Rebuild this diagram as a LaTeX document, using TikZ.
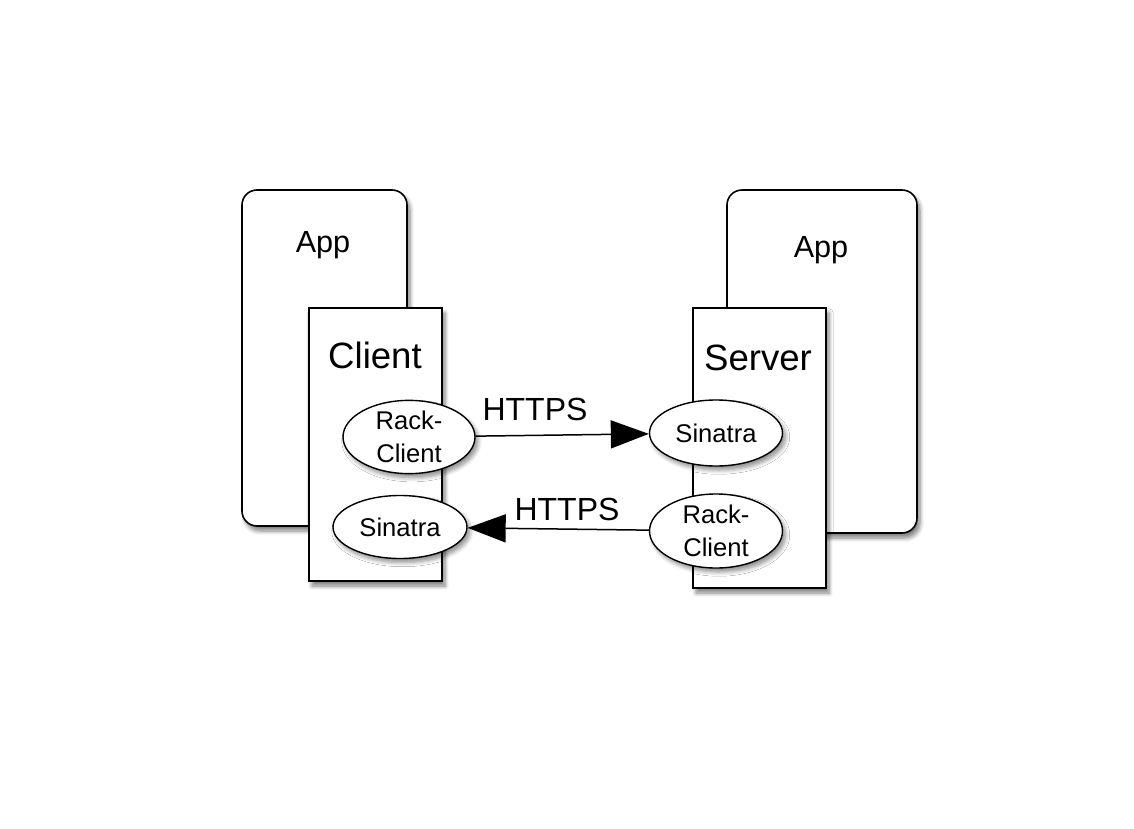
\documentclass[tikz,border=0pt]{standalone}
\usepackage{fontspec}
\setmainfont{Liberation Sans}
\usepackage{tikz}
\usetikzlibrary{arrows.meta, positioning, shapes.geometric, shadows.blur}
\tikzset{
  appbox/.style={draw, line width=0.8pt, rounded corners=7.5pt, fill=white, blur shadow={shadow xshift=1.5pt, shadow yshift=-2.5pt, shadow blur steps=6, shadow opacity=50}},
  partbox/.style={draw, line width=0.8pt, fill=white, minimum width=66.5pt, blur shadow={shadow xshift=1.5pt, shadow yshift=-2.5pt, shadow blur steps=6, shadow opacity=50}},
  comp/.style={draw, ellipse, line width=0.7pt, fill=white, inner sep=0pt, align=center, font=\fontsize{12.8}{16.5}\selectfont, blur shadow={shadow xshift=1.5pt, shadow yshift=-2pt, shadow blur steps=6, shadow opacity=45}},
  title/.style={font=\fontsize{15.3}{18}\selectfont},
  bigtitle/.style={font=\fontsize{18.3}{21}\selectfont},
  proto/.style={font=\fontsize{16}{19}\selectfont},
  arrow/.style={-{Triangle[length=19pt, width=14pt]}, line width=0.75pt}
}
\begin{document}
\begin{tikzpicture}[x=0.5pt, y=-0.5pt]
    \useasboundingbox (0,0) rectangle (1134,829);
    \node[appbox, minimum width=82.5pt, minimum height=168pt] (appL) at (324.5,358) {};
    \node[appbox, minimum width=95pt, minimum height=171.5pt] (appR) at (822,361.5) {};
    \node[title] (appLtxt) at (323,245) {App};
    \node[title] (appRtxt) at (821,250) {App};
    \node[partbox, minimum height=136.5pt] (client) at (375.5,444.5) {};
    \node[partbox, minimum height=140pt] (server) at (759.5,448) {};
    \node[bigtitle] (clienttxt) at (375,355) {Client};
    \node[bigtitle] (servertxt) at (758,358) {Server};
    \node[comp, minimum width=66pt, minimum height=32pt] (rackL) at (409,437) {Rack-\\Client};
    \node[comp, minimum width=67pt, minimum height=31.5pt] (sinL) at (400,527) {Sinatra};
    \node[comp, minimum width=66.5pt, minimum height=33pt] (sinR) at (716,433) {Sinatra};
    \node[comp, minimum width=66.5pt, minimum height=37pt] (rackR) at (716,531) {Rack-\\Client};
    \draw[arrow] (rackL) -- (sinR);
    \draw[arrow] (rackR) -- (sinL);
    \node[proto] (httpsA) at (535,409) {HTTPS};
    \node[proto] (httpsB) at (567,509) {HTTPS};
\end{tikzpicture}
\end{document}
